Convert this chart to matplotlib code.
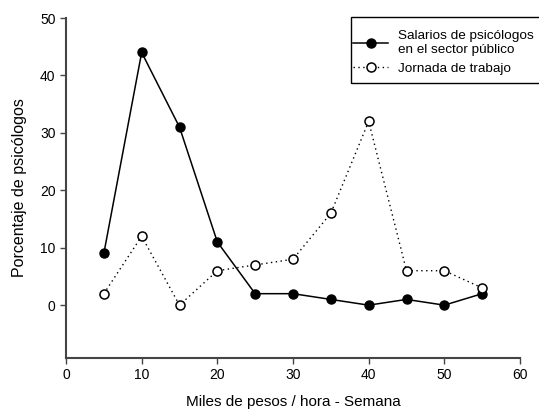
import matplotlib
matplotlib.use("Agg")
import matplotlib.pyplot as plt
from matplotlib.patches import Rectangle

plt.rcParams['font.family'] = ['Liberation Sans', 'DejaVu Sans']

x_vals = [5, 10, 15, 20, 25, 30, 35, 40, 45, 50, 55]
salarios = [9, 44, 31, 11, 2, 2, 1, 0, 1, 0, 2]
jornada = [2, 12, 0, 6, 7, 8, 16, 32, 6, 6, 3]
x_ticks = [0, 10, 20, 30, 40, 50, 60]
y_ticks = [0, 10, 20, 30, 40, 50]

W, H = 539, 411
fig = plt.figure(figsize=(W/100, H/100), dpi=100)
ax = fig.add_axes([66/W, 1-358/H, 454/W, 340/H])

ax.plot(x_vals, salarios, color='black', lw=1.1, marker='o', ms=6.5,
        mfc='black', mec='black', label='Salarios de psicólogos\nen el sector público', zorder=3)
ax.plot(x_vals, jornada, color='black', lw=1.0, ls=(0, (1, 2.5)), marker='o', ms=6.5,
        mfc='white', mec='black', mew=1.1, label='Jornada de trabajo', zorder=3)

ax.set_xlim(0, 60)
ax.set_ylim(-9.2, 50)
ax.set_xticks(x_ticks)
ax.set_yticks(y_ticks)
for s in ['top', 'right']:
    ax.spines[s].set_visible(False)
for s in ['left', 'bottom']:
    ax.spines[s].set_color('#444444')
    ax.spines[s].set_linewidth(1.5)
ax.tick_params(direction='out', length=4, width=1, colors='#444444', labelcolor='black', labelsize=10)

ax.set_xlabel('Miles de pesos / hora - Semana', fontsize=11, labelpad=9)
ax.set_ylabel('Porcentaje de psicólogos', fontsize=11.5, labelpad=9)

# legend without frame, positioned in figure pixels
leg = ax.legend(loc='upper left', bbox_to_anchor=(353/W, 1-30/H), bbox_transform=fig.transFigure,
                borderaxespad=0, borderpad=0, frameon=False, fontsize=9.7,
                handlelength=2.6, handletextpad=0.75, labelspacing=0.5)
# legend frame box (extends past the right edge as in the reference)
fig.patches.append(Rectangle((351/W, 1-83/H), 200/W, 66/H, transform=fig.transFigure,
                             fill=False, edgecolor='black', lw=1.0, clip_on=False))

fig.savefig('out.png', dpi=100)
